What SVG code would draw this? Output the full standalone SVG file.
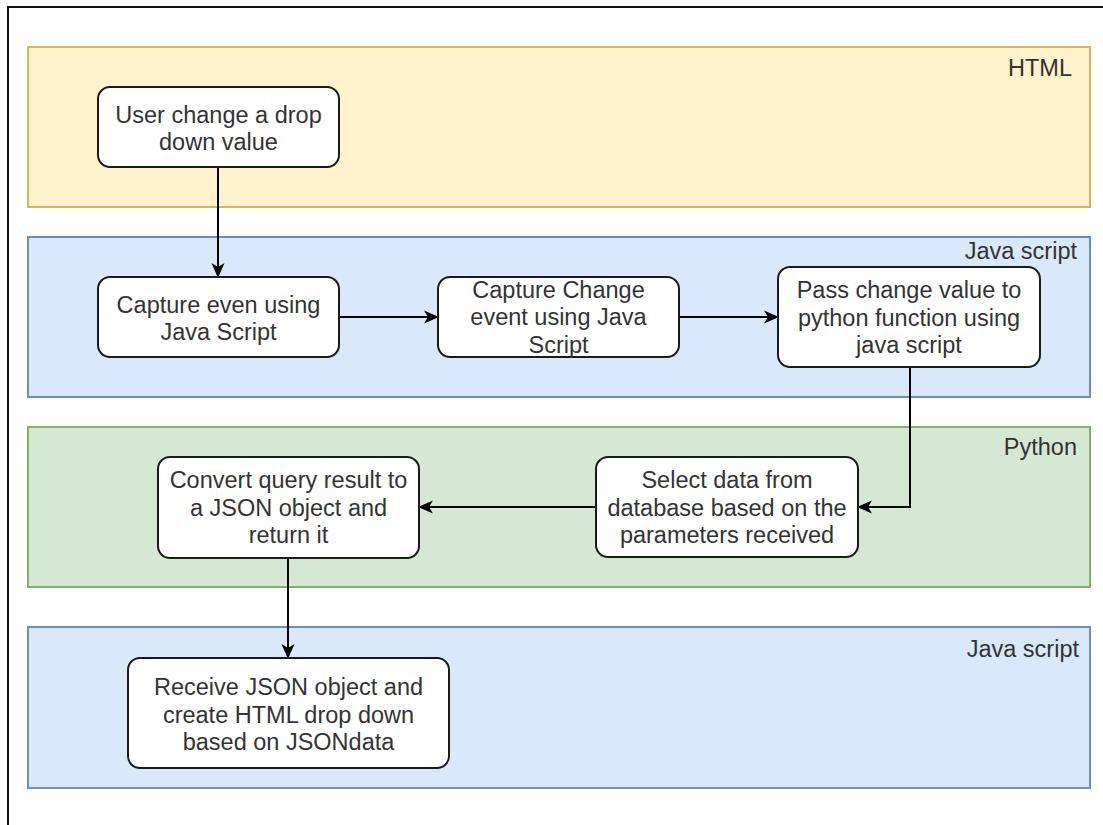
<svg xmlns="http://www.w3.org/2000/svg" width="1103" height="825" viewBox="0 0 1103 825">
  <style>
    .lane { stroke-width: 2; }
    .html { fill: #fff2cc; stroke: #d6b656; }
    .js { fill: #dae8fc; stroke: #6c8ebf; }
    .py { fill: #d5e8d4; stroke: #82b366; }
    .box { fill: #ffffff; stroke: #1a1a1a; stroke-width: 2; }
    text { font-family: "Liberation Sans", Arial, sans-serif; font-size: 23.5px; fill: #333333; }
    .c { text-anchor: middle; }
    .r { text-anchor: end; }
    .edge { fill: none; stroke: #000000; stroke-width: 2; }
  </style>
  <defs>
    <marker id="arrow" viewBox="0 0 15 14" refX="14" refY="7" markerWidth="15" markerHeight="14" markerUnits="userSpaceOnUse" orient="auto">
      <path d="M0,0.5 L15,7 L0,13.5 L4,7 Z" fill="#000000"/>
    </marker>
  </defs>

  <rect width="1103" height="825" fill="#ffffff"/>
  <!-- page frame -->
  <path d="M8,825 L8,7 L1103,7" fill="none" stroke="#111111" stroke-width="2"/>

  <!-- swimlanes -->
  <g id="lane-html">
    <rect class="lane html" x="28" y="47" width="1062" height="160"/>
    <text class="r" x="1072" y="76">HTML</text>
  </g>
  <g id="lane-js-1">
    <rect class="lane js" x="28" y="237" width="1062" height="160"/>
    <text class="r" x="1077" y="259">Java script</text>
  </g>
  <g id="lane-python">
    <rect class="lane py" x="28" y="427" width="1062" height="160"/>
    <text class="r" x="1077" y="455">Python</text>
  </g>
  <g id="lane-js-2">
    <rect class="lane js" x="28" y="627" width="1062" height="161"/>
    <text class="r" x="1079" y="657">Java script</text>
  </g>

  <!-- connectors -->
  <g id="connectors">
    <path class="edge" d="M218,167 L218,277" marker-end="url(#arrow)"/>
    <path class="edge" d="M339,317 L438,317" marker-end="url(#arrow)"/>
    <path class="edge" d="M679,317 L778,317" marker-end="url(#arrow)"/>
    <path class="edge" d="M910,367 L910,507 L858,507" marker-end="url(#arrow)"/>
    <path class="edge" d="M596,507 L419,507" marker-end="url(#arrow)"/>
    <path class="edge" d="M288,558 L288,658" marker-end="url(#arrow)"/>
  </g>

  <!-- process steps -->
  <g id="node-user-change">
    <rect class="box" x="98" y="87" width="241" height="80" rx="12"/>
    <text class="c" x="218.5" y="122.5">User change a drop</text>
    <text class="c" x="218.5" y="150">down value</text>
  </g>
  <g id="node-capture-even">
    <rect class="box" x="98" y="277" width="241" height="80" rx="12"/>
    <text class="c" x="218.5" y="312.5">Capture even using</text>
    <text class="c" x="218.5" y="340">Java Script</text>
  </g>
  <g id="node-capture-change">
    <rect class="box" x="438" y="277" width="241" height="80" rx="12"/>
    <text class="c" x="558.5" y="297.5">Capture Change</text>
    <text class="c" x="558.5" y="325">event using Java</text>
    <text class="c" x="558.5" y="352.5">Script</text>
  </g>
  <g id="node-pass-value">
    <rect class="box" x="778" y="267" width="262" height="100" rx="12"/>
    <text class="c" x="909" y="298">Pass change value to</text>
    <text class="c" x="909" y="325.5">python function using</text>
    <text class="c" x="909" y="353">java script</text>
  </g>
  <g id="node-select-data">
    <rect class="box" x="596" y="457" width="262" height="100" rx="12"/>
    <text class="c" x="727" y="488">Select data from</text>
    <text class="c" x="727" y="515.5">database based on the</text>
    <text class="c" x="727" y="543">parameters received</text>
  </g>
  <g id="node-convert-json">
    <rect class="box" x="158" y="457" width="261" height="101" rx="12"/>
    <text class="c" x="288.5" y="488">Convert query result to</text>
    <text class="c" x="288.5" y="515.5">a JSON object and</text>
    <text class="c" x="288.5" y="543">return it</text>
  </g>
  <g id="node-receive-json">
    <rect class="box" x="128" y="658" width="321" height="110" rx="12"/>
    <text class="c" x="288.5" y="695">Receive JSON object and</text>
    <text class="c" x="288.5" y="722.5">create HTML drop down</text>
    <text class="c" x="288.5" y="750">based on JSONdata</text>
  </g>
</svg>
